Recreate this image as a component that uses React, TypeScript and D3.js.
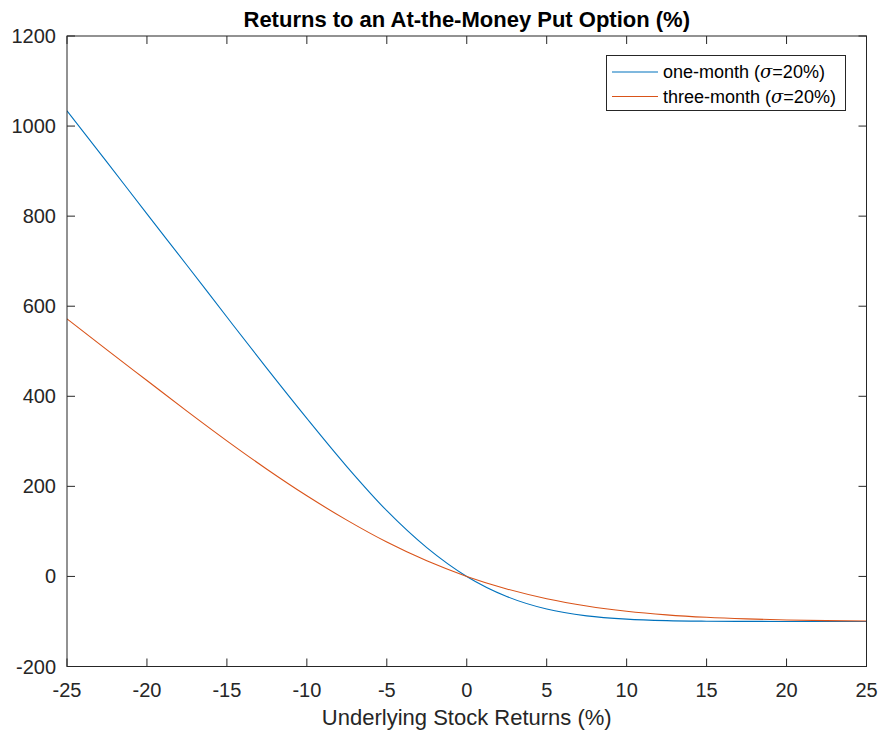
import React from "react";
import * as d3 from "d3";

const stockReturns = [-25, -22.5, -20, -17.5, -15, -12.5, -10, -7.5, -5, -2.5, 0, 2.5, 5, 7.5, 10, 12.5, 15, 17.5, 20, 22.5, 25];
const oneMonth = [1034, 920, 805, 691, 576, 462, 351, 244, 146, 64, 0, -44.5, -72.4, -87.5, -94.9, -98.2, -99.4, -99.8, -100, -100, -100];
const threeMonth = [572, 503, 435, 367, 301, 238, 179, 125, 76.3, 34.6, 0, -27.8, -49.4, -65.5, -77.2, -85.3, -90.8, -94.3, -96.6, -98.1, -98.9];
const xTicks = [-25, -20, -15, -10, -5, 0, 5, 10, 15, 20, 25];
const yTicks = [-200, 0, 200, 400, 600, 800, 1000, 1200];
const seriesNames = ["one-month", "three-month"];
const sigmaLabel = "=20%)";

const W = 883;
const H = 738;
const L = 67;
const R = 866.5;
const T = 36;
const B = 666.5;
const AX = "#262626";
const FONT = "'Liberation Sans', Arial, Helvetica, sans-serif";
const COLORS = ["#0072BD", "#D95319"];

export default function App() {
  const x = d3.scaleLinear().domain([-25, 25]).range([L, R]);
  const y = d3.scaleLinear().domain([-200, 1200]).range([B, T]);
  const line = d3
    .line<number>()
    .x((_, i) => x(stockReturns[i]))
    .y((d) => y(d))
    .curve(d3.curveMonotoneX);
  const series = [oneMonth, threeMonth];
  const tl = 8;

  return (
    <svg
      width={W}
      height={H}
      style={{ position: "absolute", left: 0, top: 0, background: "#fff" }}
      fontFamily={FONT}
    >
      <rect x={0} y={0} width={W} height={H} fill="#fff" />
      <text x={(L + R) / 2} y={27} textAnchor="middle" fontSize={22} fontWeight="bold" fill="#000">
        Returns to an At-the-Money Put Option (%)
      </text>

      <g clipPath="url(#clip)">
        {series.map((s, i) => (
          <path key={i} d={line(s) || ""} fill="none" stroke={COLORS[i]} strokeWidth={1.1} />
        ))}
      </g>
      <defs>
        <clipPath id="clip">
          <rect x={L} y={T} width={R - L} height={B - T} />
        </clipPath>
      </defs>

      {/* box */}
      <rect x={L} y={T} width={R - L} height={B - T} fill="none" stroke={AX} strokeWidth={1} />

      {xTicks.map((t) => (
        <g key={"x" + t}>
          <line x1={x(t)} x2={x(t)} y1={B} y2={B - tl} stroke={AX} />
          <line x1={x(t)} x2={x(t)} y1={T} y2={T + tl} stroke={AX} />
          <text x={x(t)} y={697} textAnchor="middle" fontSize={20} fill={AX}>
            {t}
          </text>
        </g>
      ))}
      {yTicks.map((t) => (
        <g key={"y" + t}>
          <line x1={L} x2={L + tl} y1={y(t)} y2={y(t)} stroke={AX} />
          <line x1={R} x2={R - tl} y1={y(t)} y2={y(t)} stroke={AX} />
          <text x={56} y={y(t) + 7} textAnchor="end" fontSize={20} fill={AX}>
            {t}
          </text>
        </g>
      ))}

      <text x={(L + R) / 2} y={725} textAnchor="middle" fontSize={22} fill={AX}>
        Underlying Stock Returns (%)
      </text>

      {/* legend */}
      <rect x={606.5} y={55.5} width={239} height={55} fill="#fff" stroke={AX} strokeWidth={1} />
      {seriesNames.map((n, i) => (
        <g key={n}>
          <line x1={612} x2={658} y1={72 + i * 24.5} y2={72 + i * 24.5} stroke={COLORS[i]} strokeWidth={1.1} />
          <text x={663} y={78 + i * 24.5} fontSize={18} fill="#000">
            {n} (<tspan fontStyle="italic" fontFamily="'DejaVu Serif', 'Liberation Serif', serif">σ</tspan>
            {sigmaLabel}
          </text>
        </g>
      ))}
    </svg>
  );
}
